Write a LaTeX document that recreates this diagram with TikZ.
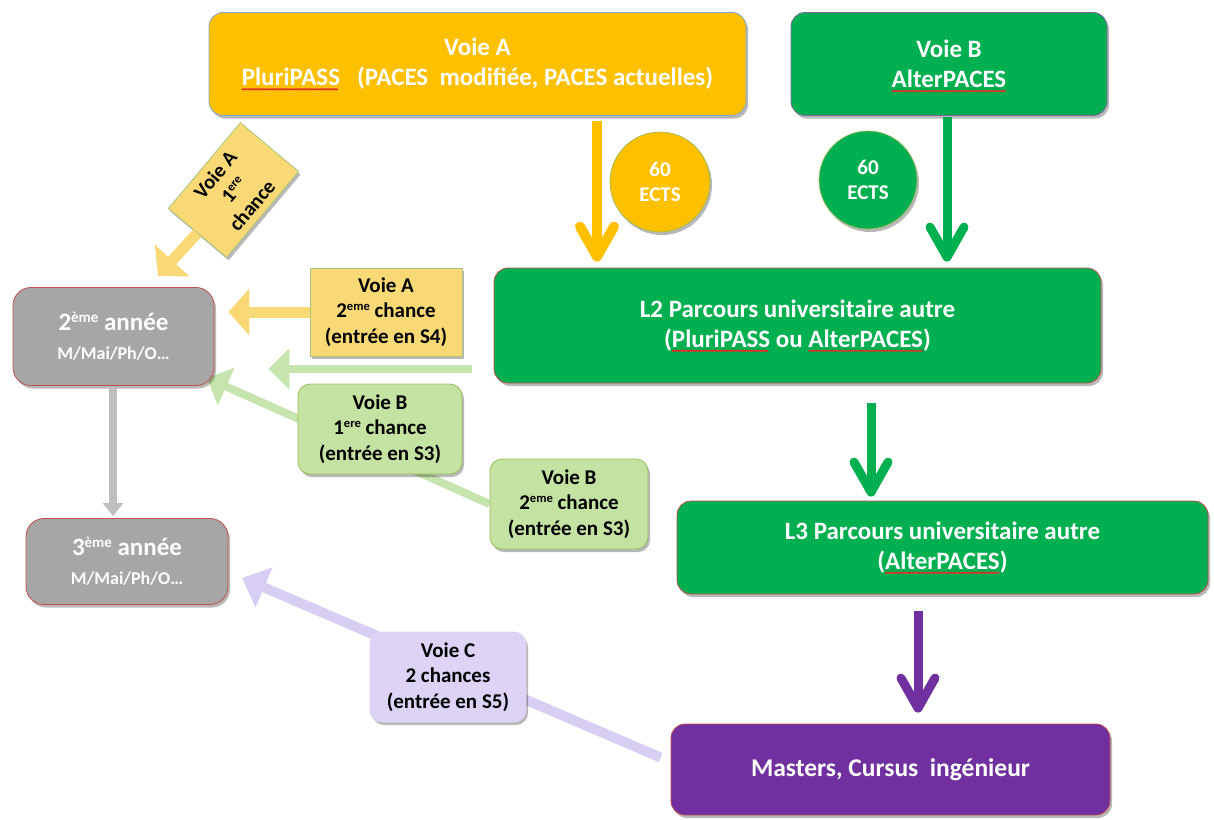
\documentclass[tikz,border=0pt]{standalone}
\usepackage{fontspec}
\setmainfont{Carlito}
\usetikzlibrary{arrows.meta,shadows}
\pgfdeclarelayer{bg}
\pgfsetlayers{bg,main}
\definecolor{cOrange}{HTML}{FFC000}
\definecolor{cGreen}{HTML}{00B050}
\definecolor{cPurple}{HTML}{7030A0}
\definecolor{cGray}{HTML}{A6A6A6}
\definecolor{cGrayArrow}{HTML}{BFBFBF}
\definecolor{cPaleYellow}{HTML}{F9D976}
\definecolor{cPaleGreen}{HTML}{C4E3A2}
\definecolor{cPaleGreenArrow}{HTML}{C6E5AE}
\definecolor{cLav}{HTML}{DDD3F6}
\definecolor{cLavArrow}{HTML}{D8CEF3}
\definecolor{cRedEdge}{HTML}{C0504D}
\definecolor{cBlueEdge}{HTML}{7FA9D3}
\definecolor{cPurpEdge}{HTML}{8064A2}
\definecolor{cOliveEdge}{HTML}{A9C47C}
\definecolor{cGreenEdge}{HTML}{9BBB59}
% red wavy spell-check underline, drawn with leaders of a tiny zigzag
\newsavebox\wvbox
\newcommand\wavebit{\hbox to 3pt{\special{pdf:content 0.88 0.19 0.16 RG 0.7 w 1 j 0 -4.2 m 0.75 -2.6 l 1.5 -4.2 l 2.25 -2.6 l 3 -4.2 l S}\hfil}}
\newcommand\redwave[1]{\sbox\wvbox{#1}\leavevmode\rlap{\leaders\wavebit\hskip\wd\wvbox}\usebox\wvbox}
\newcommand\supx[1]{\raisebox{0.33em}{\scalebox{0.6}{#1}}}
\begin{document}
\begin{tikzpicture}[x=1pt,y=-1pt,
  shadowed/.style={drop shadow={shadow xshift=2pt,shadow yshift=-3pt,opacity=0.28,fill=black}},
  bigbox/.style={rounded corners=14pt, line width=0.8pt, text=white, align=center,
    inner sep=0pt, font=\bfseries\fontsize{25}{30}\selectfont, shadowed},
  graybox/.style={rounded corners=18pt, line width=0.8pt, fill=cGray, draw=cRedEdge,
    text=white, align=center, inner sep=0pt, font=\bfseries\fontsize{25}{29}\selectfont,
    minimum width=201pt, shadowed},
  ectscircle/.style={circle, draw=cGreenEdge, line width=0.7pt, minimum size=100pt,
    inner sep=0pt, text=white, align=center, font=\bfseries\fontsize{21}{25}\selectfont, shadowed},
  callout/.style={line width=0.8pt, align=center, inner sep=0pt, text=black,
    font=\bfseries\fontsize{21}{25.5}\selectfont, shadowed},
  chevarrow/.style={line width=#1, line cap=butt, -{Straight Barb[length=30pt,width=34pt,round]}},
  yelarrow/.style={draw=cPaleYellow, line width=11pt, -{Triangle[length=21pt,width=46pt]}},
  grnarrow/.style={draw=cPaleGreenArrow, line width=8pt, -{Triangle[length=21pt,width=40pt]}},
  lavarrow/.style={draw=cLavArrow, line width=10pt, -{Triangle[length=24pt,width=42pt]}},
  grayarrow/.style={draw=cGrayArrow, line width=8pt, -{Triangle[length=13pt,width=20pt]}}
]
\useasboundingbox (0,0) rectangle (1214,819);

% main boxes
\node[bigbox, fill=cOrange, draw=cBlueEdge, minimum width=537pt, minimum height=103pt] (boxA) at (477.5,64)
  {Voie A\\\redwave{PluriPASS}\ \ \ (PACES\ \ modifiée, PACES actuelles)};
\node[bigbox, fill=cGreen, draw=cPurpEdge, minimum width=316pt, minimum height=103pt] (boxB) at (949,64)
  {Voie B\\\redwave{AlterPACES}};
\node[bigbox, fill=cGreen, draw=cRedEdge, minimum width=607pt, minimum height=115pt] (L2) at (797.5,325.5)
  {L2 Parcours universitaire autre\\(\redwave{PluriPASS} ou \redwave{AlterPACES})};
\node[bigbox, fill=cGreen, draw=cRedEdge, minimum width=531pt, minimum height=93pt] (L3) at (942.5,547.5)
  {L3 Parcours universitaire autre\\(\redwave{AlterPACES})};
\node[bigbox, fill=cPurple, draw=cRedEdge, minimum width=439pt, minimum height=91pt,
  font=\bfseries\fontsize{25.5}{30}\selectfont] (Mast) at (890.5,769.5)
  {Masters, Cursus\ \ ingénieur};

% gray boxes
\node[graybox, minimum height=98pt] (Y2) at (113.5,336.5)
  {2\supx{ème} année\\{\fontsize{18}{29}\selectfont M/Mai/Ph/O…}};
\node[graybox, minimum height=86pt, minimum width=202pt] (Y3) at (127,561.5)
  {3\supx{ème} année\\{\fontsize{18}{29}\selectfont M/Mai/Ph/O…}};

% circles
\node[ectscircle, fill=cOrange] (circA) at (660,182) {60\\ECTS};
\node[ectscircle, fill=cGreen, minimum size=98pt] (circB) at (868,180) {60\\ECTS};

% callouts
\node[callout, fill=cPaleYellow, draw=cOliveEdge, minimum width=152pt, minimum height=88pt] (calA2) at (386,312)
  {Voie A\\2\supx{eme} chance\\(entrée en S4)};
\node[callout, fill=cPaleGreen, draw=cGreenEdge, rounded corners=12pt, minimum width=164pt, minimum height=90pt] (calB1) at (380,429)
  {Voie B\\1\supx{ere} chance\\(entrée en S3)};
\node[callout, fill=cPaleGreen, draw=cGreenEdge, rounded corners=12pt, minimum width=158pt, minimum height=90pt] (calB2) at (569,504)
  {Voie B\\2\supx{eme} chance\\(entrée en S3)};
\node[callout, fill=cLav, draw=cLav, rounded corners=12pt, minimum width=156pt, minimum height=90pt] (calC) at (448,677)
  {Voie C\\2 chances\\(entrée en S5)};
\node[callout, fill=cPaleYellow, draw=cOliveEdge, rotate=50, minimum width=112pt, minimum height=76pt,
  font=\bfseries\fontsize{20.5}{24}\selectfont] (calA1) at (233.5,190)
  {Voie A\\1\supx{ere}\\chance};

% free end points
\coordinate (tipA1) at (158,276);
\coordinate (tipB) at (207,378);
\coordinate (tipC) at (242,578);
\coordinate (yL) at (0,369);
\coordinate (xA) at (597,0);
\coordinate (xB) at (947,0);
\coordinate (xL2) at (871,0);
\coordinate (xL3) at (918,0);
\coordinate (xG) at (113,0);

% connectors under the callouts
\begin{pgfonlayer}{bg}
  \draw[grnarrow] (calB2.west) -- (tipB);
  \draw[lavarrow] ([shift={(-10,-12)}]Mast.west) -- (tipC);
\end{pgfonlayer}

% main flow arrows
\draw[chevarrow=10pt, draw=cOrange, shorten <=5pt, shorten >=6pt] (xA |- boxA.south) -- (xA |- L2.north);
\draw[chevarrow=9pt, draw=cGreen, shorten <=1pt, shorten >=6pt] (xB |- boxB.south) -- (xB |- L2.north);
\draw[chevarrow=9pt, draw=cGreen, shorten <=20pt, shorten >=4pt] (xL2 |- L2.south) -- (xL2 |- L3.north);
\draw[chevarrow=9pt, draw=cPurple, shorten <=17pt, shorten >=11pt] (xL3 |- L3.south) -- (xL3 |- Mast.north);
\draw[grayarrow, shorten <=2pt, shorten >=2pt] (xG |- Y2.south) -- (xG |- Y3.north);

% callout arrows
\draw[yelarrow] (calA2.west) -- ([xshift=14pt]Y2.east |- calA2.west);
\draw[yelarrow] (calA1.west) -- (tipA1);
\draw[grnarrow, shorten <=22pt, shorten >=54pt] (L2.west |- yL) -- (Y2.east |- yL);
\end{tikzpicture}
\end{document}
